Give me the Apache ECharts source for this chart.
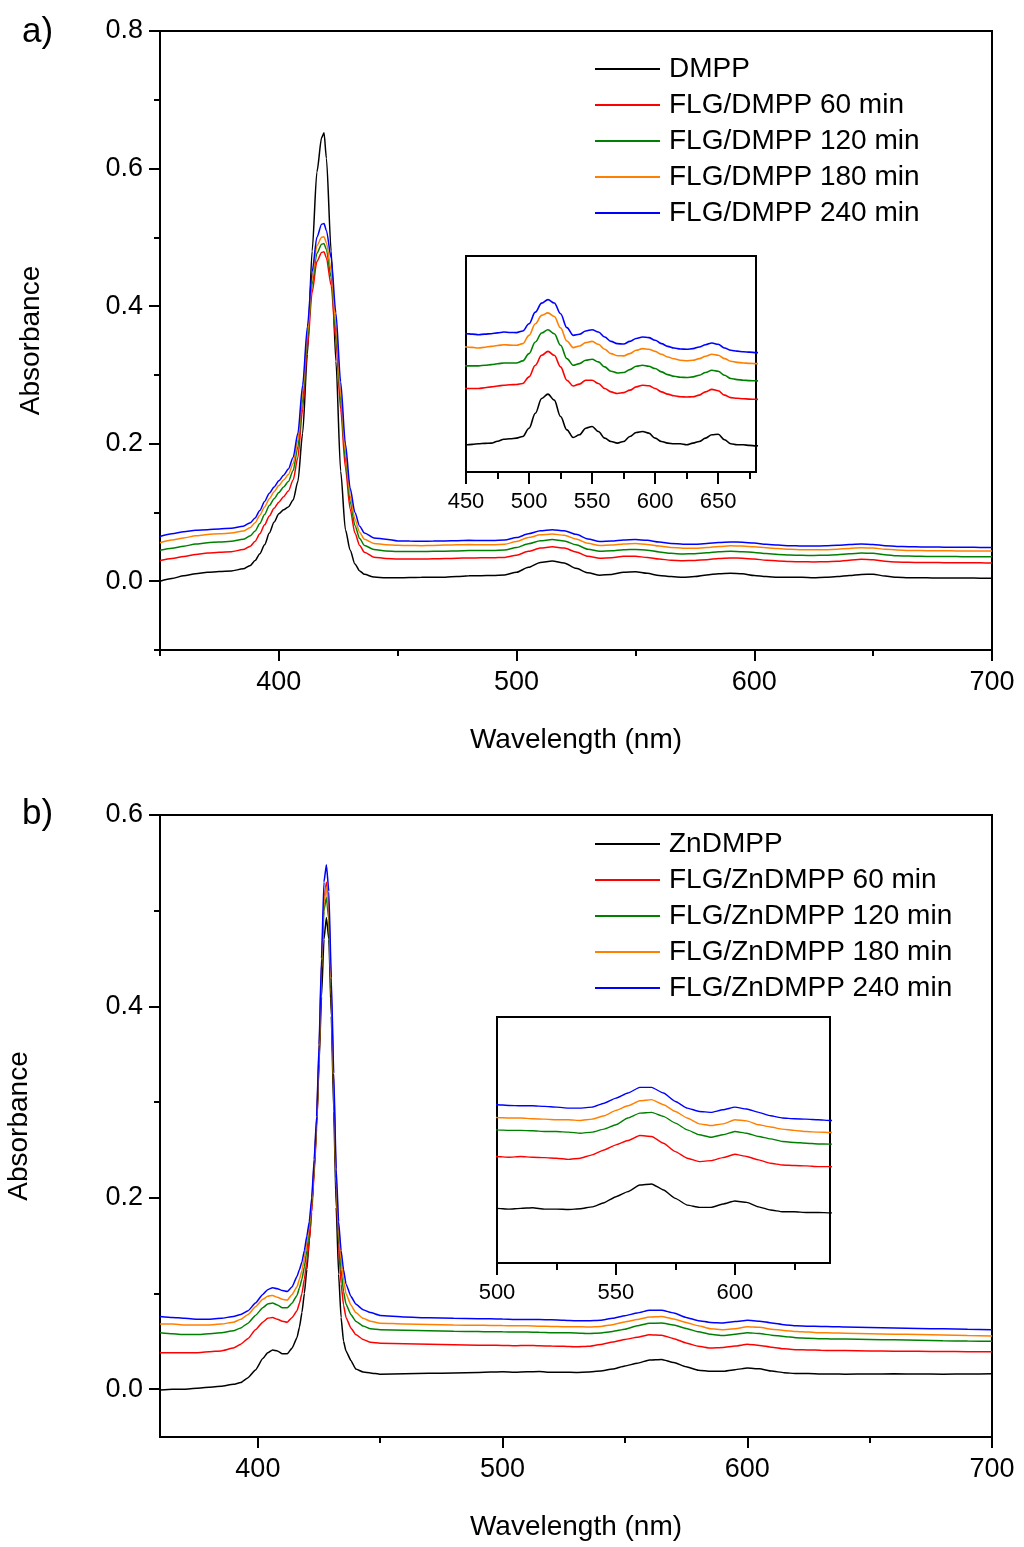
<!DOCTYPE html>
<html>
<head>
<meta charset="utf-8">
<script src="https://cdn.jsdelivr.net/npm/echarts@6/dist/echarts.min.js"></script>
<style>
html,body{margin:0;padding:0;background:#fff;}
#chart{width:1024px;height:1547px;}
</style>
</head>
<body>
<div id="chart"></div>
<script>
// ---------- Panel a data ----------
const wlA = [350,355,360,365,370,375,380,385,388,390,392,394,396,398,400,402,404,406,408,410,412,414,416,418,419,420,422,424,426,428,430,432,434,436,440,445,
450,455,460,465,470,475,480,485,490,495,500,505,510,515,520,525,530,535,540,545,550,555,560,565,570,575,580,585,590,595,600,605,610,615,620,625,630,635,640,645,650,655,660,665,670,675,680,685,690,695,700];

const dmppA = [0.000,0.004,0.008,0.011,0.013,0.014,0.015,0.018,0.023,0.030,0.040,0.053,0.070,0.086,0.098,0.104,0.108,0.118,0.145,0.215,0.330,0.480,0.595,0.645,0.652,0.615,0.480,0.320,0.160,0.075,0.045,0.025,0.015,0.010,0.006,0.005,
0.0051,0.0053,0.0056,0.0058,0.0059,0.0068,0.0078,0.0080,0.0083,0.0091,
0.0131,0.0203,0.0274,0.0295,0.0266,0.0187,0.0123,0.0086,0.0099,0.0131,
0.0139,0.0115,0.0083,0.0067,0.0059,0.0067,0.0091,0.0110,0.0115,0.0107,
0.0083,0.0067,0.0059,0.0056,0.0056,0.0051,0.0059,0.0067,0.0083,0.0099,
0.0102,0.0075,0.0056,0.0051,0.0051,0.0048,0.0046,0.0047,0.0046,0.0045,0.0045];

const flg60A = [0.030,0.033,0.036,0.039,0.041,0.042,0.043,0.046,0.051,0.058,0.069,0.082,0.095,0.106,0.115,0.123,0.131,0.147,0.180,0.250,0.340,0.420,0.465,0.478,0.479,0.470,0.430,0.350,0.250,0.165,0.105,0.070,0.052,0.042,0.035,0.033,
0.0322,0.0322,0.0322,0.0326,0.0330,0.0334,0.0338,0.0340,0.0341,0.0346,
0.0378,0.0434,0.0482,0.0501,0.0482,0.0426,0.0362,0.0334,0.0343,0.0362,
0.0362,0.0346,0.0322,0.0306,0.0298,0.0302,0.0314,0.0330,0.0338,0.0335,
0.0322,0.0306,0.0295,0.0287,0.0282,0.0281,0.0282,0.0290,0.0306,0.0318,
0.0311,0.0290,0.0278,0.0275,0.0273,0.0271,0.0270,0.0269,0.0268,0.0267,0.0266];

const flg120A = [0.045,0.048,0.051,0.054,0.056,0.057,0.058,0.061,0.066,0.073,0.084,0.097,0.110,0.120,0.129,0.137,0.145,0.161,0.195,0.265,0.352,0.432,0.477,0.490,0.491,0.482,0.442,0.363,0.263,0.178,0.116,0.081,0.062,0.052,0.046,0.044,
0.0431,0.0431,0.0431,0.0434,0.0437,0.0441,0.0445,0.0445,0.0445,0.0455,
0.0490,0.0546,0.0589,0.0605,0.0586,0.0530,0.0466,0.0434,0.0442,0.0458,
0.0463,0.0450,0.0426,0.0405,0.0397,0.0399,0.0413,0.0429,0.0434,0.0429,
0.0418,0.0402,0.0389,0.0381,0.0376,0.0375,0.0378,0.0386,0.0399,0.0410,
0.0405,0.0386,0.0370,0.0365,0.0362,0.0360,0.0359,0.0358,0.0357,0.0356,0.0355];

const flg180A = [0.056,0.060,0.063,0.066,0.068,0.069,0.070,0.073,0.078,0.085,0.096,0.108,0.120,0.130,0.139,0.147,0.155,0.171,0.205,0.275,0.360,0.440,0.488,0.500,0.501,0.492,0.452,0.373,0.273,0.187,0.124,0.090,0.071,0.061,0.055,0.053,
0.0522,0.0520,0.0517,0.0521,0.0525,0.0529,0.0533,0.0531,0.0530,0.0538,
0.0578,0.0634,0.0674,0.0686,0.0669,0.0614,0.0551,0.0519,0.0527,0.0543,
0.0549,0.0535,0.0511,0.0490,0.0480,0.0479,0.0490,0.0506,0.0514,0.0511,
0.0501,0.0487,0.0474,0.0465,0.0458,0.0456,0.0458,0.0466,0.0477,0.0487,
0.0482,0.0466,0.0453,0.0448,0.0445,0.0443,0.0442,0.0441,0.0440,0.0439,0.0438];

const flg240A = [0.065,0.069,0.072,0.074,0.075,0.076,0.077,0.080,0.085,0.092,0.103,0.116,0.128,0.137,0.146,0.154,0.163,0.180,0.215,0.285,0.370,0.450,0.500,0.519,0.520,0.510,0.470,0.390,0.290,0.200,0.135,0.100,0.080,0.070,0.063,0.061,
0.0586,0.0584,0.0581,0.0584,0.0586,0.0590,0.0594,0.0592,0.0591,0.0599,
0.0634,0.0690,0.0733,0.0750,0.0734,0.0682,0.0615,0.0578,0.0583,0.0599,
0.0605,0.0594,0.0570,0.0549,0.0538,0.0536,0.0549,0.0563,0.0570,0.0567,
0.0554,0.0538,0.0525,0.0517,0.0512,0.0511,0.0514,0.0522,0.0533,0.0541,
0.0535,0.0517,0.0506,0.0502,0.0499,0.0497,0.0495,0.0494,0.0493,0.0492,0.0491];

// ---------- Panel b data ----------
const wlB = [360,365,370,375,380,385,390,393,396,399,402,404,406,408,410,412,414,
416,417,418,419,420,421,422,423,424,425,426,427,428,429,430,431,432,433,434,435,436,
438,440,443,446,450,460,470,480,490,495,
500,505,510,515,520,525,530,535,540,545,550,555,560,565,570,575,580,585,590,595,600,605,610,615,620,625,630,635,640,
650,660,670,680,690,700];

const zndmppB = [-0.001,0.000,0.000,0.001,0.002,0.003,0.005,0.007,0.012,0.020,0.032,0.038,0.041,0.040,0.037,0.037,0.043,
0.054,0.065,0.080,0.100,0.125,0.155,0.190,0.230,0.275,0.340,0.410,0.470,0.493,0.470,0.390,0.290,0.190,0.120,0.075,0.050,0.040,
0.030,0.021,0.018,0.017,0.0155,0.0160,0.0165,0.0170,0.0175,0.0178,
0.0181,0.0177,0.0181,0.0184,0.0177,0.0177,0.0175,0.0179,0.0189,0.0211,0.0243,0.0270,0.0305,0.0311,0.0279,0.0234,0.0198,0.0186,0.0186,0.0204,0.0220,0.0213,0.0189,0.0172,0.0163,0.0163,0.0159,0.0159,0.0157,
0.0158,0.0160,0.0158,0.0157,0.0158,0.0160];

const flg60B = [0.038,0.038,0.038,0.038,0.039,0.040,0.043,0.047,0.053,0.062,0.070,0.074,0.075,0.073,0.071,0.070,0.075,
0.082,0.090,0.100,0.115,0.133,0.155,0.185,0.225,0.272,0.345,0.435,0.510,0.530,0.500,0.410,0.310,0.210,0.150,0.110,0.088,0.075,
0.064,0.057,0.052,0.049,0.048,0.0475,0.047,0.0465,0.046,0.0458,
0.0457,0.0453,0.0457,0.0453,0.0451,0.0448,0.0442,0.0448,0.0466,0.0492,0.0519,0.0542,0.0569,0.0564,0.0528,0.0483,0.0448,0.0430,0.0435,0.0451,0.0469,0.0457,0.0439,0.0421,0.0412,0.0409,0.0407,0.0403,0.0403,
0.0400,0.0397,0.0395,0.0393,0.0392,0.0390];

const flg120B = [0.059,0.058,0.057,0.057,0.058,0.059,0.061,0.064,0.069,0.077,0.085,0.089,0.090,0.088,0.085,0.085,0.090,
0.098,0.106,0.115,0.128,0.145,0.165,0.192,0.232,0.278,0.350,0.438,0.500,0.514,0.490,0.410,0.312,0.215,0.160,0.125,0.102,0.089,
0.078,0.071,0.066,0.063,0.062,0.0615,0.061,0.0605,0.0602,0.0600,
0.0599,0.0596,0.0596,0.0594,0.0590,0.0590,0.0587,0.0581,0.0587,0.0603,0.0626,0.0662,0.0688,0.0692,0.0671,0.0635,0.0599,0.0573,0.0560,0.0573,0.0590,0.0581,0.0564,0.0551,0.0537,0.0532,0.0528,0.0524,0.0523,
0.0520,0.0515,0.0510,0.0505,0.0502,0.0500];

const flg180B = [0.068,0.068,0.067,0.067,0.067,0.068,0.070,0.073,0.078,0.086,0.094,0.097,0.098,0.096,0.094,0.093,0.099,
0.107,0.115,0.124,0.137,0.153,0.170,0.196,0.236,0.282,0.355,0.445,0.510,0.525,0.500,0.420,0.320,0.222,0.167,0.135,0.114,0.100,
0.088,0.080,0.074,0.071,0.069,0.068,0.0675,0.067,0.0668,0.0666,
0.0665,0.0662,0.0662,0.0658,0.0656,0.0653,0.0653,0.0649,0.0656,0.0674,0.0703,0.0727,0.0754,0.0760,0.0733,0.0697,0.0662,0.0631,0.0622,0.0631,0.0653,0.0647,0.0626,0.0614,0.0603,0.0596,0.0590,0.0587,0.0585,
0.0580,0.0575,0.0570,0.0565,0.0560,0.0555];

const flg240B = [0.076,0.075,0.074,0.073,0.073,0.074,0.076,0.078,0.082,0.090,0.099,0.104,0.106,0.105,0.103,0.102,0.107,
0.118,0.125,0.133,0.145,0.160,0.175,0.200,0.240,0.285,0.360,0.450,0.530,0.548,0.520,0.430,0.330,0.230,0.175,0.145,0.125,0.110,
0.097,0.089,0.083,0.080,0.077,0.0755,0.0745,0.074,0.0737,0.0735,
0.0733,0.0729,0.0727,0.0727,0.0724,0.0720,0.0715,0.0715,0.0720,0.0741,0.0768,0.0795,0.0825,0.0825,0.0795,0.0750,0.0715,0.0697,0.0692,0.0706,0.0720,0.0710,0.0692,0.0674,0.0662,0.0658,0.0656,0.0653,0.0649,
0.0645,0.0640,0.0635,0.0630,0.0625,0.0620];

// names / ticks
const namesA = ['DMPP','FLG/DMPP 60 min','FLG/DMPP 120 min','FLG/DMPP 180 min','FLG/DMPP 240 min'];
const namesB = ['ZnDMPP','FLG/ZnDMPP 60 min','FLG/ZnDMPP 120 min','FLG/ZnDMPP 180 min','FLG/ZnDMPP 240 min'];
const colors = ['#000000','#ff0000','#008000','#ff8000','#0000ff'];

const xMajorA = [400,500,600,700], xMinorA = [350,450,550,650];
const yMajorA = [0,0.2,0.4,0.6,0.8], yMinorA = [-0.1,0.1,0.3,0.5,0.7];
const xMajorInA = [450,500,550,600,650], xMinorInA = [475,525,575,625,675];
const xMajorB = [400,500,600,700], xMinorB = [450,550,650];
const yMajorB = [0,0.2,0.4,0.6], yMinorB = [0.1,0.3,0.5];
const xMajorInB = [500,550,600], xMinorInB = [525,575,625];

const seriesA = [dmppA, flg60A, flg120A, flg180A, flg240A];
const seriesB = [zndmppB, flg60B, flg120B, flg180B, flg240B];

const FONT = 'Liberation Sans, Arial, sans-serif';
const pairs = (wl, v) => wl.map((x, i) => [x, v[i]]);

function gridOf(left, top, width, height) {
  return {left, top, width, height, show: true, borderColor: '#000', borderWidth: 2,
    backgroundColor: 'transparent', containLabel: false, outerBoundsMode: 'none'};
}
function majorX(gi, min, max, ticks, fs, tickLen, margin, name) {
  const ax = {
    type: 'value', gridIndex: gi, min, max, position: 'bottom',
    splitLine: {show: false},
    axisLine: {show: true, onZero: false, lineStyle: {color: '#000', width: 2}},
    axisTick: {show: true, inside: false, length: tickLen, customValues: ticks, lineStyle: {color: '#000', width: 2}},
    axisLabel: {show: true, customValues: ticks, color: '#000', fontSize: fs, fontFamily: FONT, margin: margin}
  };
  if (name) {
    ax.name = name; ax.nameLocation = 'middle'; ax.nameGap = 76;
    ax.nameTextStyle = {color: '#000', fontSize: 28, fontFamily: FONT};
  }
  return ax;
}
function minorX(gi, min, max, ticks, len) {
  return {
    type: 'value', gridIndex: gi, min, max, position: 'bottom',
    splitLine: {show: false},
    axisLine: {show: false, onZero: false},
    axisTick: {show: true, inside: false, length: len, customValues: ticks, lineStyle: {color: '#000', width: 2}},
    axisLabel: {show: false}
  };
}
function majorY(gi, min, max, ticks, nameGap) {
  return {
    type: 'value', gridIndex: gi, min, max, position: 'left',
    splitLine: {show: false},
    axisLine: {show: true, onZero: false, lineStyle: {color: '#000', width: 2}},
    axisTick: {show: true, inside: false, length: 11, customValues: ticks, lineStyle: {color: '#000', width: 2}},
    axisLabel: {show: true, customValues: ticks, color: '#000', fontSize: 27, fontFamily: FONT, margin: 17,
      formatter: v => Number(v).toFixed(1)},
    name: 'Absorbance', nameLocation: 'middle', nameGap: nameGap,
    nameTextStyle: {color: '#000', fontSize: 28, fontFamily: FONT}
  };
}
function minorY(gi, min, max, ticks) {
  return {
    type: 'value', gridIndex: gi, min, max, position: 'left',
    splitLine: {show: false},
    axisLine: {show: false, onZero: false},
    axisTick: {show: true, inside: false, length: 6, customValues: ticks, lineStyle: {color: '#000', width: 2}},
    axisLabel: {show: false}
  };
}
function plainY(gi, min, max) {
  return {
    type: 'value', gridIndex: gi, min, max, position: 'left',
    splitLine: {show: false},
    axisLine: {show: true, onZero: false, lineStyle: {color: '#000', width: 2}},
    axisTick: {show: false}, axisLabel: {show: false}
  };
}

const series = [];
function addSeries(wl, arrs, names, xi, yi, width, smooth) {
  arrs.forEach((v, k) => {
    series.push({
      type: 'line', name: names[k], xAxisIndex: xi, yAxisIndex: yi,
      data: pairs(wl, v), symbol: 'none', showSymbol: false, clip: true,
      smooth: smooth, smoothMonotone: 'x',
      lineStyle: {color: colors[k], width: width}, itemStyle: {color: colors[k]},
      emphasis: {disabled: true}, silent: true
    });
  });
}
// x axes: 0 main a, 1 minor a, 2 inset a, 3 inset a minor, 4 main b, 5 minor b, 6 inset b, 7 inset b minor
// y axes: 0 main a, 1 minor a, 2 inset a, 3 main b, 4 minor b, 5 inset b
addSeries(wlA, seriesA, namesA, 0, 0, 1.5, 0.25);
addSeries(wlA, seriesA, namesA, 2, 2, 1.6, 0.35);
addSeries(wlB, seriesB, namesB, 4, 3, 1.5, 0.15);
addSeries(wlB, seriesB, namesB, 6, 5, 1.4, 0.15);

const legendCommon = {
  orient: 'vertical', left: 595, padding: 0, icon: 'rect', itemWidth: 65, itemHeight: 2, itemGap: 8,
  textStyle: {color: '#000', fontSize: 28, fontFamily: FONT, lineHeight: 28, padding: [0, 0, 0, 4]},
  selectedMode: false
};

const option = {
  animation: false,
  backgroundColor: '#fff',
  title: [
    {text: 'a)', left: 17, top: 10, textStyle: {color: '#000', fontSize: 35, fontWeight: 'normal', fontFamily: FONT}},
    {text: 'b)', left: 17, top: 792, textStyle: {color: '#000', fontSize: 35, fontWeight: 'normal', fontFamily: FONT}}
  ],
  legend: [
    Object.assign({}, legendCommon, {top: 55, data: namesA}),
    Object.assign({}, legendCommon, {top: 830, data: namesB})
  ],
  grid: [
    gridOf(160, 31, 832, 619),
    gridOf(466, 256, 290, 216),
    gridOf(160, 815, 832, 622),
    gridOf(497, 1017, 333, 246)
  ],
  xAxis: [
    majorX(0, 350, 700, xMajorA, 27, 11, 19, 'Wavelength (nm)'),
    minorX(0, 350, 700, xMinorA, 6),
    majorX(1, 450, 680, xMajorInA, 22, 12, 19),
    minorX(1, 450, 680, xMinorInA, 7),
    majorX(2, 360, 700, xMajorB, 27, 11, 19, 'Wavelength (nm)'),
    minorX(2, 360, 700, xMinorB, 6),
    majorX(3, 500, 640, xMajorInB, 22, 12, 19),
    minorX(3, 500, 640, xMinorInB, 7)
  ],
  yAxis: [
    majorY(0, -0.1, 0.8, yMajorA, 115),
    minorY(0, -0.1, 0.8, yMinorA),
    plainY(1, -0.008, 0.096),
    majorY(2, -0.05, 0.6, yMajorB, 127),
    minorY(2, -0.05, 0.6, yMinorB),
    plainY(3, -0.011, 0.120)
  ],
  series: series
};

const chart = echarts.init(document.getElementById('chart'), null, {renderer: 'canvas', width: 1024, height: 1547});
chart.setOption(option);
</script>
</body>
</html>
